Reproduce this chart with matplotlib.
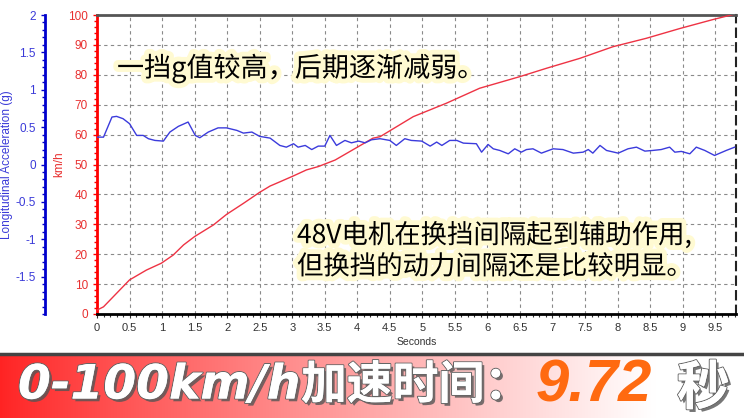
import numpy as np
import matplotlib.pyplot as plt
import matplotlib.patheffects as pe
from matplotlib.ticker import MultipleLocator, FuncFormatter

# acceleration trace (g)
t_acc = [0.0, 0.1, 0.23, 0.3, 0.4, 0.5, 0.61, 0.71, 0.79, 0.89, 1.02, 1.12, 1.25, 1.4,
         1.51, 1.58, 1.71, 1.86, 1.99, 2.15, 2.25, 2.38, 2.5, 2.66, 2.81, 2.91, 3.02,
         3.09, 3.2, 3.3, 3.4, 3.5, 3.58, 3.68, 3.81, 3.91, 4.02, 4.12, 4.22, 4.35, 4.5,
         4.6, 4.73, 4.83, 4.99, 5.12, 5.22, 5.3, 5.42, 5.53, 5.63, 5.83, 5.91, 6.01,
         6.09, 6.19, 6.32, 6.42, 6.52, 6.6, 6.7, 6.83, 7.01, 7.16, 7.32, 7.47, 7.55,
         7.62, 7.73, 7.83, 8.01, 8.16, 8.29, 8.42, 8.54, 8.67, 8.8, 8.88, 8.98, 9.11,
         9.21, 9.34, 9.49, 9.67, 9.8]
acc = [0.366, 0.366, 0.635, 0.644, 0.613, 0.546, 0.389, 0.389, 0.345, 0.322, 0.313,
       0.434, 0.51, 0.568, 0.389, 0.358, 0.434, 0.49, 0.49, 0.456, 0.42, 0.434, 0.376,
       0.353, 0.255, 0.232, 0.278, 0.232, 0.255, 0.2, 0.246, 0.246, 0.389, 0.255, 0.322,
       0.29, 0.313, 0.29, 0.331, 0.345, 0.322, 0.255, 0.345, 0.322, 0.313, 0.246, 0.3,
       0.255, 0.322, 0.322, 0.286, 0.278, 0.165, 0.268, 0.21, 0.188, 0.143, 0.21, 0.165,
       0.2, 0.21, 0.152, 0.21, 0.2, 0.152, 0.165, 0.2, 0.152, 0.255, 0.188, 0.152, 0.21,
       0.232, 0.179, 0.188, 0.2, 0.232, 0.165, 0.175, 0.143, 0.232, 0.188, 0.121, 0.188,
       0.232]

# speed trace (km/h)
t_spd = [0.0, 0.1, 0.3, 0.5, 0.76, 0.99, 1.17, 1.33, 1.5, 1.79, 1.99, 2.25, 2.5, 2.66,
         2.81, 3.02, 3.22, 3.4, 3.66, 4.24, 4.35, 4.86, 5.37, 5.88, 6.5, 6.91, 7.42,
         7.93, 8.44, 8.96, 9.47, 9.8]
spd = [1.3, 2.4, 6.9, 11.4, 14.7, 17.0, 19.7, 23.1, 25.9, 29.8, 33.3, 37.0, 40.7, 42.8,
       44.2, 46.2, 48.2, 49.3, 51.5, 58.8, 59.3, 66.0, 70.5, 75.5, 79.4, 82.2, 85.5,
       89.4, 92.2, 95.5, 98.5, 100.3]

note1 = "一挡g值较高，后期逐渐减弱。"
note2 = "48V电机在换挡间隔起到辅助作用,\n但换挡的动力间隔还是比较明显。"
banner_speed = "0-100km/h"
banner_txt = "加速时间："
banner_time = "9.72"
banner_unit = "秒"

plt.rcParams['font.family'] = ['Liberation Sans', 'Noto Sans CJK SC', 'DejaVu Sans']

W, H = 744, 418
fig = plt.figure(figsize=(W / 100, H / 100), dpi=100)
fig.patch.set_facecolor('white')

rect = [97 / W, 1 - 314 / H, (736 - 97) / W, (314 - 15) / H]
ax = fig.add_axes(rect)
ax.set_xlim(0, 9.82)
ax.set_ylim(0, 100)
ax.plot(t_spd, spd, color='#ee3344', lw=1.0, zorder=3)

ax.xaxis.set_major_locator(MultipleLocator(0.5))
ax.xaxis.set_minor_locator(MultipleLocator(0.1))
ax.yaxis.set_major_locator(MultipleLocator(10))
ax.yaxis.set_minor_locator(MultipleLocator(2))
ax.xaxis.set_major_formatter(FuncFormatter(lambda v, p: f"{v:g}"))
ax.grid(True, which='major', color='#8a8a8a', ls=(0, (3, 3)), lw=0.8)
ax.tick_params(axis='x', which='both', colors='#333333', labelsize=8, length=3, width=0.8)
ax.tick_params(axis='x', which='minor', length=2)
ax.tick_params(axis='y', which='both', colors='#ff0000', labelcolor='#e83030',
               labelsize=8.5, length=3, width=1)
ax.tick_params(axis='y', which='minor', length=2)
ax.spines['left'].set_color('#ff0000')
ax.spines['left'].set_linewidth(2)
ax.spines['bottom'].set_color('black')
ax.spines['bottom'].set_linewidth(2)
ax.spines['top'].set_color('#555555')
ax.spines['top'].set_linewidth(2)
ax.spines['right'].set_color('#222222')
ax.spines['right'].set_linestyle((0, (4, 3)))
ax.spines['right'].set_linewidth(1.5)
ax.set_xlabel("Seconds", fontsize=7.5, color='#333333', labelpad=3)
ax.set_ylabel("km/h", fontsize=8.5, color='#e83030', labelpad=2)

# acceleration axis, spine moved further left
ax2 = fig.add_axes(rect, sharex=ax)
ax2.patch.set_visible(False)
ax2.set_ylim(-2, 2)
ax2.plot(t_acc, acc, color='#3b3bdc', lw=1.0, zorder=3)
for s in ['top', 'right', 'bottom']:
    ax2.spines[s].set_visible(False)
ax2.spines['left'].set_position(('outward', 52 * 0.72))
ax2.spines['left'].set_color('#0000cc')
ax2.spines['left'].set_linewidth(2)
ax2.set_yticks([-1.5, -1, -0.5, 0, 0.5, 1, 1.5, 2])
ax2.yaxis.set_major_formatter(FuncFormatter(lambda v, p: f"{v:g}"))
ax2.yaxis.set_minor_locator(MultipleLocator(0.1))
ax2.tick_params(axis='y', which='both', colors='#0000cc', labelcolor='#3a3ad8',
                labelsize=8.5, length=3, width=1)
ax2.tick_params(axis='y', which='minor', length=2)
ax2.tick_params(axis='x', which='both', bottom=False, labelbottom=False)
ax2.set_ylabel("Longitudinal Acceleration (g)", fontsize=8.5, color='#3a3ad8', labelpad=2)

glow = [pe.withStroke(linewidth=7, foreground='#fffad2')]
fig.text(117 / W, 1 - 68 / H, note1, fontsize=19.5, color='black', va='center', ha='left',
         family=['Noto Sans CJK SC', 'DejaVu Sans'], path_effects=glow, zorder=5)
fig.text(297 / W, 1 - 251 / H, note2, fontsize=19, color='black', va='center', ha='left',
         linespacing=1.2, family=['Noto Sans CJK SC', 'DejaVu Sans'], path_effects=glow,
         zorder=5)

# banner at the bottom
bax = fig.add_axes([0, 0, 1, 63 / H])
grad = np.linspace(0, 1, 400)
red = np.array([1.0, 0.14, 0.14])
white = np.array([1.0, 1.0, 1.0])
mix = np.clip(grad / 0.88, 0, 1) ** 0.9
img = red[None, :] * (1 - mix[:, None]) + white[None, :] * mix[:, None]
bax.imshow(img[None, :, :], aspect='auto', extent=[0, 1, 0, 1])
bax.set_xlim(0, 1)
bax.set_ylim(0, 1)
bax.axis('off')
fig.add_artist(plt.Line2D([0, 1], [1 - 354 / H, 1 - 354 / H], color='#444444', lw=2.5,
                          transform=fig.transFigure))

shadow = [pe.withSimplePatchShadow(offset=(2, -2), shadow_rgbFace='#555555', alpha=0.8),
          pe.withStroke(linewidth=1.5, foreground='#666666'), pe.Normal()]
fig.text(18 / W, 1 - 386 / H, banner_speed, fontsize=34, color='white', weight='bold',
         style='italic', va='center', ha='left', family=['DejaVu Sans'],
         path_effects=shadow)
fig.text(301 / W, 1 - 386 / H, banner_txt, fontsize=33, color='white', weight='heavy',
         va='center', ha='left', family=['Noto Sans CJK SC'], path_effects=shadow)
fig.text(536 / W, 1 - 386 / H, banner_time, fontsize=43, color='#ff6a10', weight='bold',
         style='italic', va='center', ha='left', family=['Liberation Sans'])
fig.text(677 / W, 1 - 389 / H, banner_unit, fontsize=38, color='white', weight='heavy',
         va='center', ha='left', family=['Noto Sans CJK SC'], path_effects=shadow)

fig.savefig('out.png', dpi=100)
